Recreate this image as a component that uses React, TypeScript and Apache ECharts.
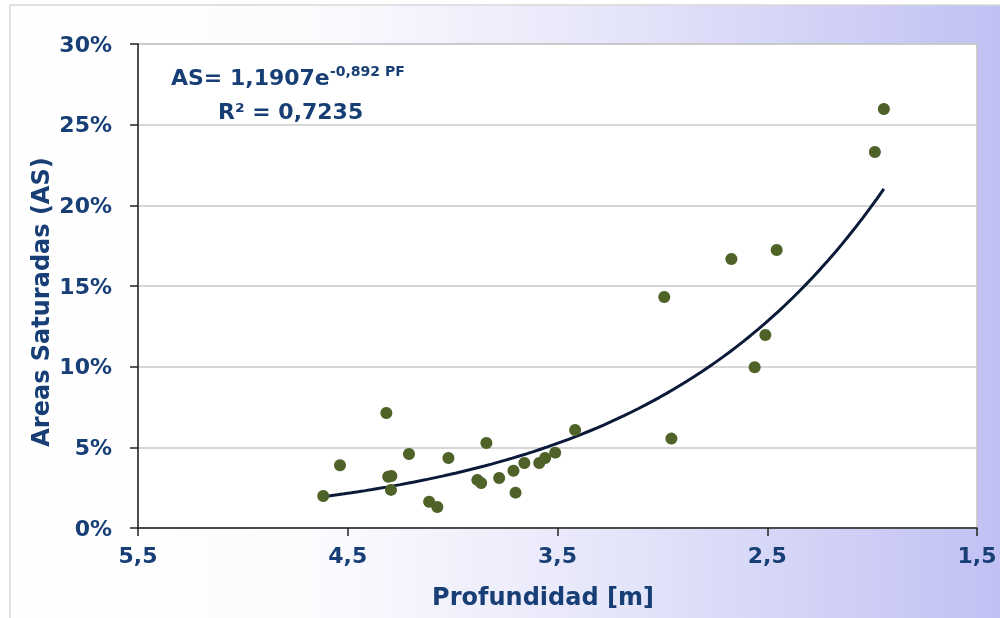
import React, { useEffect, useRef } from "react";
import * as echarts from "echarts";

// Observed points: depth [m] and saturated area [%]
const depth = [4.617, 4.537, 4.316, 4.307, 4.292, 4.294, 4.208, 4.112, 4.073, 4.02, 3.882, 3.864, 3.839, 3.778, 3.71, 3.7, 3.658, 3.587, 3.559, 3.511, 3.416, 2.991, 2.957, 2.671, 2.56, 2.509, 2.455, 1.987, 1.944];
const areaPct = [1.98, 3.89, 7.13, 3.18, 3.22, 2.36, 4.59, 1.63, 1.3, 4.34, 2.98, 2.79, 5.27, 3.1, 3.55, 2.19, 4.03, 4.03, 4.34, 4.67, 6.07, 14.32, 5.54, 16.67, 9.96, 11.96, 17.23, 23.31, 25.97];

// Trend line as printed on the chart: AS = 1.1907 e^(-0.892 PF)
const trendA = 1.1907;
const trendB = -0.892;
const trendFrom = 4.617;
const trendTo = 1.944;
const trendSteps = 80;

const xTicks = [1.5, 2.5, 3.5, 4.5, 5.5];
const yTicksPct = [0, 5, 10, 15, 20, 25, 30];

const TXT = "#173f75";
const FONT = "'DejaVu Sans', 'Liberation Sans', Arial, sans-serif";

export default function App() {
  const ref = useRef<HTMLDivElement>(null);
  useEffect(() => {
    if (!ref.current) return;
    const chart = echarts.init(ref.current, null, { renderer: "svg" });
    const scatter = depth.map((d, i) => [d, areaPct[i]]);
    const trend: number[][] = [];
    for (let i = 0; i <= trendSteps; i++) {
      const x = trendFrom + ((trendTo - trendFrom) * i) / trendSteps;
      trend.push([x, trendA * Math.exp(trendB * x) * 100]);
    }
    chart.setOption({
      animation: false,
      grid: {
        left: 138,
        right: 23,
        top: 44,
        bottom: 90,
        show: true,
        backgroundColor: "#ffffff",
        borderColor: "#c4c4c4",
        borderWidth: 1.5,
      },
      graphic: [
        {
          type: "rect",
          z: -100,
          silent: true,
          shape: { x: 10, y: 5, width: 995, height: 620 },
          style: {
            fill: new echarts.graphic.LinearGradient(0, 0, 1, 0, [
              { offset: 0, color: "#ffffff" },
              { offset: 0.3, color: "#fcfcff" },
              { offset: 0.6, color: "#e6e6fa" },
              { offset: 1, color: "#c0c0f4" },
            ]),
            stroke: "#d8d8d8",
            lineWidth: 1.5,
          },
        },
        {
          type: "text",
          x: 171,
          y: 77,
          style: { text: "AS= 1,1907e", font: `bold 22px ${FONT}`, fill: TXT, verticalAlign: "middle", align: "left" },
        },
        {
          type: "text",
          x: 330,
          y: 71,
          style: { text: "-0,892 PF", font: `bold 14px ${FONT}`, fill: TXT, verticalAlign: "middle", align: "left" },
        },
        {
          type: "text",
          x: 218,
          y: 111,
          style: { text: "R² = 0,7235", font: `bold 22px ${FONT}`, fill: TXT, verticalAlign: "middle", align: "left" },
        },
        {
          type: "text",
          x: 543,
          y: 597,
          style: { text: "Profundidad [m]", font: `bold 24px ${FONT}`, fill: TXT, verticalAlign: "middle", align: "center" },
        },
        {
          type: "text",
          x: 41,
          y: 302,
          rotation: Math.PI / 2,
          style: { text: "Areas Saturadas (AS)", font: `bold 24px ${FONT}`, fill: TXT, verticalAlign: "middle", align: "center" },
        },
      ],
      xAxis: {
        type: "value",
        inverse: true,
        min: 1.5,
        max: 5.5,
        axisLine: { show: true, onZero: false, lineStyle: { color: "#222", width: 1.5 } },
        axisTick: { show: true, inside: false, length: 8, customValues: xTicks, lineStyle: { color: "#222", width: 1.5 } },
        splitLine: { show: false },
        axisLabel: {
          customValues: xTicks,
          margin: 16,
          color: TXT,
          fontFamily: FONT,
          fontWeight: "bold",
          fontSize: 22,
          formatter: (v: number) => v.toFixed(1).replace(".", ","),
        },
      },
      yAxis: {
        type: "value",
        min: 0,
        max: 30,
        interval: 5,
        axisLine: { show: true, lineStyle: { color: "#222", width: 1.5 } },
        axisTick: { show: true, length: 8, lineStyle: { color: "#222", width: 1.5 } },
        splitLine: { show: true, lineStyle: { color: "#c8c8c8", width: 1.5 } },
        axisLabel: {
          customValues: yTicksPct,
          margin: 26,
          color: TXT,
          fontFamily: FONT,
          fontWeight: "bold",
          fontSize: 22,
          formatter: (v: number) => `${Math.round(v)}%`,
        },
      },
      series: [
        {
          type: "line",
          data: trend,
          showSymbol: false,
          symbol: "none",
          smooth: false,
          lineStyle: { color: "#0c1a3a", width: 3 },
          z: 2,
        },
        {
          type: "scatter",
          data: scatter,
          symbol: "circle",
          symbolSize: 12,
          itemStyle: { color: "#4f6228", opacity: 1 },
          z: 3,
        },
      ],
    });
    return () => chart.dispose();
  }, []);
  return <div ref={ref} style={{ position: "fixed", left: 0, top: 0, width: 1000, height: 618 }} />;
}
